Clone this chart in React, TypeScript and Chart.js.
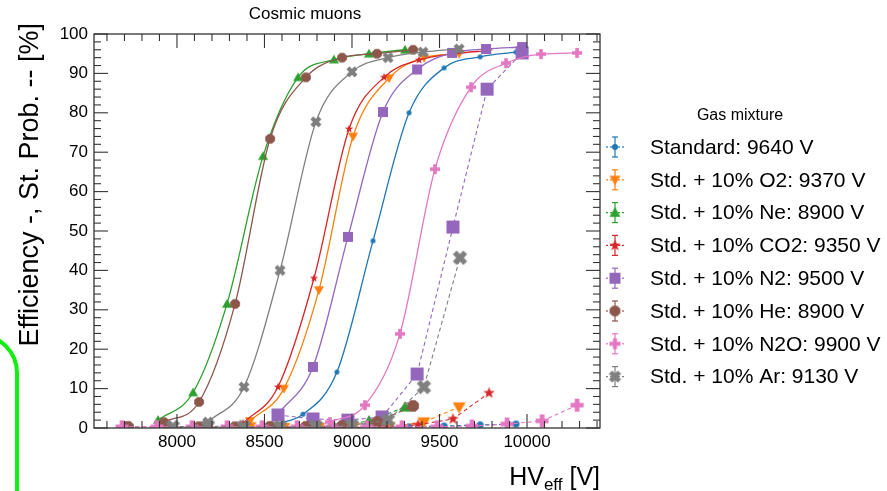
import React, { useEffect, useRef } from "react";
import { Chart, registerables } from "chart.js";

Chart.register(...registerables);

const FONT = '"Liberation Sans", Arial, Helvetica, sans-serif';

// ---- axes ----
const X_MIN = 7526;
const X_MAX = 10417;
const Y_MIN = 0;
const Y_MAX = 100;
const X_TICKS = [8000, 8500, 9000, 9500, 10000];
const Y_TICKS = [0, 10, 20, 30, 40, 50, 60, 70, 80, 90, 100];
const X_MINOR = 100;
const Y_MINOR = 2;

const TITLE = "Cosmic muons";
const Y_TITLE = "Efficiency -, St. Prob. -- [%]";
const LEGEND_TITLE = "Gas mixture";

// ---- series meta ----
const MIXTURES = [
  "Standard: 9640 V",
  "Std. + 10% O2: 9370 V",
  "Std. + 10% Ne: 8900 V",
  "Std. + 10% CO2: 9350 V",
  "Std. + 10% N2: 9500 V",
  "Std. + 10% He: 8900 V",
  "Std. + 10% N2O: 9900 V",
  "Std. + 10% Ar: 9130 V",
];
const COLORS = ["#1f77b4", "#ff7f0e", "#2ca02c", "#d62728", "#9467bd", "#8c564b", "#e377c2", "#7f7f7f"];
const SHAPES = ["circle", "triDown", "triUp", "star", "square", "octagon", "plus", "cross"];
const EFF_SIZES = [5, 10, 10, 8, 10, 10, 10, 10];
const ST_SIZES = [7, 13, 12, 11, 13, 12, 13, 13];

// ---- efficiency (solid) ----
const effHV_std = [8520, 8720, 8914, 9120, 9326, 9526, 9732, 9937];
const eff_std = [0.8, 3.5, 14.2, 47.5, 80, 91.4, 94.2, 95.4];
const effHV_o2 = [8417, 8611, 8811, 9006, 9212, 9412, 9612];
const eff_o2 = [1.8, 10, 35, 74, 88.8, 94, 95];
const effHV_ne = [7892, 8092, 8286, 8492, 8692, 8897, 9097, 9303];
const eff_ne = [2, 9, 31.5, 69, 89, 93.5, 95, 96];
const effHV_co2 = [8377, 8577, 8783, 8983, 9183, 9383, 9583, 9783];
const eff_co2 = [1.2, 10.4, 38, 75.9, 89, 93.4, 95, 95.8];
const effHV_n2 = [8577, 8777, 8977, 9177, 9372, 9572, 9766, 9972];
const eff_n2 = [3.5, 15.5, 48.5, 80.2, 91, 95.2, 96.2, 96.7];
const effHV_he = [7926, 8126, 8332, 8532, 8737, 8943, 9143, 9349];
const eff_he = [1.5, 6.6, 31.5, 73.4, 89, 94, 95, 96];
const effHV_n2o = [8874, 9074, 9274, 9474, 9680, 9880, 10080, 10286];
const eff_n2o = [1.5, 5.8, 23.9, 65.7, 86.5, 92.6, 94.9, 95.2];
const effHV_ar = [8177, 8383, 8589, 8794, 9000, 9206, 9406, 9612];
const eff_ar = [1.5, 10.4, 40, 77.7, 90.4, 94, 95.4, 96.2];

// ---- streamer probability (dashed) ----
const stHV_std = [8520, 8720, 8914, 9120, 9326, 9526, 9732, 9937];
const st_std = [0, 0.1, 0.1, 0.2, 0.3, 0.5, 0.8, 1.0];
const stHV_o2 = [8417, 8611, 8811, 9006, 9212, 9411, 9612];
const st_o2 = [0.3, 0.1, 0.1, 0.2, 0.3, 1.5, 5.3];
const stHV_ne = [7892, 8092, 8286, 8492, 8692, 8897, 9097, 9303];
const st_ne = [0.1, 0.1, 0.2, 0.2, 0.3, 0.4, 1.8, 5.3];
const stHV_co2 = [8377, 8577, 8783, 8983, 9183, 9377, 9577, 9783];
const st_co2 = [0, 0, 0.1, 0.1, 0.2, 0.8, 2.3, 8.9];
const stHV_n2 = [8577, 8777, 8977, 9172, 9372, 9577, 9772, 9972];
const st_n2 = [3.3, 2.3, 2, 2.8, 13.7, 51, 86, 95.2];
const stHV_he = [7720, 7926, 8126, 8332, 8532, 8737, 8943, 9143, 9349];
const st_he = [0.3, 0.2, 0.2, 0.2, 0.3, 0.3, 0.5, 1.5, 5.6];
const stHV_n2o = [7686, 7886, 8086, 8286, 8486, 8686, 8886, 9086, 9286, 9486, 9686, 9886, 10086, 10286];
const st_n2o = [0.3, 0.3, 0.3, 0.3, 0.3, 0.3, 0.3, 0.3, 0.3, 0.3, 0.5, 1, 1.8, 5.8];
const stHV_ar = [7977, 8177, 8383, 8589, 8794, 9000, 9206, 9411, 9617];
const st_ar = [0.3, 0.5, 0.3, 0.3, 0.4, 0.6, 2, 10.4, 43.2];

const EFF_HV = [effHV_std, effHV_o2, effHV_ne, effHV_co2, effHV_n2, effHV_he, effHV_n2o, effHV_ar];
const EFF = [eff_std, eff_o2, eff_ne, eff_co2, eff_n2, eff_he, eff_n2o, eff_ar];
const ST_HV = [stHV_std, stHV_o2, stHV_ne, stHV_co2, stHV_n2, stHV_he, stHV_n2o, stHV_ar];
const ST = [st_std, st_o2, st_ne, st_co2, st_n2, st_he, st_n2o, st_ar];

function makeMarker(shape: string, size: number, color: string): HTMLCanvasElement {
  const pad = 2;
  const c = document.createElement("canvas");
  const dim = Math.ceil(size + pad * 2);
  c.width = dim;
  c.height = dim;
  const g = c.getContext("2d")!;
  g.translate(dim / 2, dim / 2);
  g.fillStyle = color;
  const r = size / 2;
  g.beginPath();
  if (shape === "circle") {
    g.arc(0, 0, r, 0, Math.PI * 2);
  } else if (shape === "octagon") {
    for (let i = 0; i < 8; i++) {
      const a = Math.PI / 8 + (i * Math.PI) / 4;
      const px = Math.cos(a) * r * 1.05, py = Math.sin(a) * r * 1.05;
      i === 0 ? g.moveTo(px, py) : g.lineTo(px, py);
    }
    g.closePath();
  } else if (shape === "square") {
    g.rect(-r, -r, size, size);
  } else if (shape === "triUp") {
    g.moveTo(0, -r);
    g.lineTo(r, r * 0.75);
    g.lineTo(-r, r * 0.75);
    g.closePath();
  } else if (shape === "triDown") {
    g.moveTo(0, r);
    g.lineTo(r, -r * 0.75);
    g.lineTo(-r, -r * 0.75);
    g.closePath();
  } else if (shape === "star") {
    for (let i = 0; i < 10; i++) {
      const a = -Math.PI / 2 + (i * Math.PI) / 5;
      const rr = i % 2 === 0 ? r * 1.1 : r * 0.45;
      const px = Math.cos(a) * rr, py = Math.sin(a) * rr;
      i === 0 ? g.moveTo(px, py) : g.lineTo(px, py);
    }
    g.closePath();
  } else if (shape === "plus" || shape === "cross") {
    if (shape === "cross") g.rotate(Math.PI / 4);
    const R = shape === "cross" ? r * 1.15 : r;
    const w = R * 0.36;
    g.moveTo(-w, -R);
    g.lineTo(w, -R);
    g.lineTo(w, -w);
    g.lineTo(R, -w);
    g.lineTo(R, w);
    g.lineTo(w, w);
    g.lineTo(w, R);
    g.lineTo(-w, R);
    g.lineTo(-w, w);
    g.lineTo(-R, w);
    g.lineTo(-R, -w);
    g.lineTo(-w, -w);
    g.closePath();
  }
  g.fill();
  return c;
}

export default function App() {
  const ref = useRef<HTMLCanvasElement | null>(null);

  useEffect(() => {
    if (!ref.current) return;
    const effMarkers = SHAPES.map((s, i) => makeMarker(s, EFF_SIZES[i], COLORS[i]));
    const stMarkers = SHAPES.map((s, i) => makeMarker(s, ST_SIZES[i], COLORS[i]));
    const legMarkers = SHAPES.map((s, i) => makeMarker(s, i === 0 ? 6 : 11, COLORS[i]));

    const datasets: any[] = [];
    MIXTURES.forEach((name, i) => {
      datasets.push({
        label: name + " eff",
        data: EFF_HV[i].map((x, k) => ({ x, y: EFF[i][k] })),
        borderColor: COLORS[i],
        backgroundColor: COLORS[i],
        borderWidth: 1.3,
        pointStyle: effMarkers[i],
        pointRadius: 5,
        cubicInterpolationMode: "monotone",
        fill: false,
        clip: 0,
      });
      datasets.push({
        label: name + " st",
        data: ST_HV[i].map((x, k) => ({ x, y: ST[i][k] })),
        borderColor: COLORS[i],
        backgroundColor: COLORS[i],
        borderWidth: 1.1,
        borderDash: [4, 3],
        pointStyle: stMarkers[i],
        pointRadius: 6,
        tension: 0,
        fill: false,
        clip: 0,
      });
    });
    datasets.reverse(); // first dataset is drawn on top in Chart.js

    const line = (ctx: CanvasRenderingContext2D, x1: number, y1: number, x2: number, y2: number) => {
      ctx.beginPath();
      ctx.moveTo(x1, y1);
      ctx.lineTo(x2, y2);
      ctx.stroke();
    };

    const decor = {
      id: "decor",
      afterDatasetsDraw(chart: any) {
        const { ctx, chartArea: a, scales } = chart;
        const xs = scales.x, ys = scales.y;
        ctx.save();
        ctx.strokeStyle = "#333";
        ctx.lineWidth = 1.3;
        ctx.strokeRect(a.left, a.top, a.right - a.left, a.bottom - a.top);
        ctx.lineWidth = 1.1;
        for (let v = Math.ceil(X_MIN / X_MINOR) * X_MINOR; v <= X_MAX; v += X_MINOR) {
          const px = xs.getPixelForValue(v);
          const len = X_TICKS.includes(v) ? 14 : 7;
          line(ctx, px, a.bottom, px, a.bottom - len);
          line(ctx, px, a.top, px, a.top + len);
        }
        for (let v = Y_MIN; v <= Y_MAX; v += Y_MINOR) {
          const py = ys.getPixelForValue(v);
          const len = Y_TICKS.includes(v) ? 14 : 7;
          line(ctx, a.left, py, a.left + len, py);
          line(ctx, a.right, py, a.right - len, py);
        }
        ctx.restore();
      },
      afterDraw(chart: any) {
        const { ctx, chartArea: a, scales } = chart;
        const xs = scales.x, ys = scales.y;
        ctx.save();
        ctx.fillStyle = "#000";
        // tick labels
        ctx.font = `17px ${FONT}`;
        ctx.textAlign = "center";
        ctx.textBaseline = "middle";
        X_TICKS.forEach((v) => ctx.fillText(String(v), xs.getPixelForValue(v), a.bottom + 14));
        ctx.textAlign = "right";
        Y_TICKS.forEach((v) => ctx.fillText(String(v), a.left - 6, ys.getPixelForValue(v)));
        // title
        ctx.textAlign = "center";
        ctx.font = `17px ${FONT}`;
        ctx.fillText(TITLE, 305, 14);
        // y title
        ctx.save();
        ctx.translate(31, 23);
        ctx.rotate(-Math.PI / 2);
        ctx.textAlign = "right";
        ctx.textBaseline = "middle";
        ctx.font = `27px ${FONT}`;
        ctx.fillText(Y_TITLE, 0, 0);
        ctx.restore();
        // x title HV_eff [V]
        ctx.textBaseline = "alphabetic";
        ctx.textAlign = "left";
        const big = `25px ${FONT}`, small = `17px ${FONT}`;
        ctx.font = big;
        const w1 = ctx.measureText("HV").width;
        const w3 = ctx.measureText(" [V]").width;
        ctx.font = small;
        const w2 = ctx.measureText("eff").width;
        const sx = a.right - (w1 + w2 + w3);
        const by = 485;
        ctx.font = big;
        ctx.fillText("HV", sx, by);
        ctx.font = small;
        ctx.fillText("eff", sx + w1, by + 5);
        ctx.font = big;
        ctx.fillText(" [V]", sx + w1 + w2, by);
        // legend
        ctx.textAlign = "center";
        ctx.textBaseline = "middle";
        ctx.font = `16px ${FONT}`;
        ctx.fillText(LEGEND_TITLE, 740, 116);
        ctx.textAlign = "left";
        ctx.font = `21px ${FONT}`;
        MIXTURES.forEach((name, i) => {
          const y = 147 + i * 32.8;
          const mx = 615;
          ctx.strokeStyle = COLORS[i];
          ctx.lineWidth = 1.2;
          line(ctx, mx, y - 10, mx, y + 10);
          line(ctx, mx - 3, y - 10, mx + 3, y - 10);
          line(ctx, mx - 3, y + 10, mx + 3, y + 10);
          ctx.setLineDash([2, 2]);
          line(ctx, mx - 9, y, mx + 9, y);
          ctx.setLineDash([]);
          const m = legMarkers[i];
          ctx.drawImage(m, mx - m.width / 2, y - m.height / 2);
          ctx.fillStyle = "#000";
          ctx.fillText(name, 650, y + 1);
        });
        ctx.restore();
      },
    };

    const chart = new Chart(ref.current, {
      type: "line",
      data: { datasets },
      options: {
        animation: false,
        responsive: false,
        events: [],
        layout: { padding: { left: 94, right: 287, top: 34, bottom: 63 } },
        plugins: { legend: { display: false }, tooltip: { enabled: false }, title: { display: false } },
        scales: {
          x: { type: "linear", min: X_MIN, max: X_MAX, display: false },
          y: { type: "linear", min: Y_MIN, max: Y_MAX, display: false },
        },
      },
      plugins: [decor],
    });
    return () => chart.destroy();
  }, []);

  return (
    <div style={{ position: "fixed", left: 0, top: 0, width: 887, height: 491, background: "#fff", overflow: "hidden" }}>
      <canvas ref={ref} width={887} height={491} style={{ display: "block" }} />
      <div
        style={{
          position: "absolute",
          left: -61,
          top: 333,
          width: 80,
          height: 300,
          border: "4px solid #11ee11",
          borderRadius: 40,
          boxSizing: "border-box",
        }}
      />
    </div>
  );
}
